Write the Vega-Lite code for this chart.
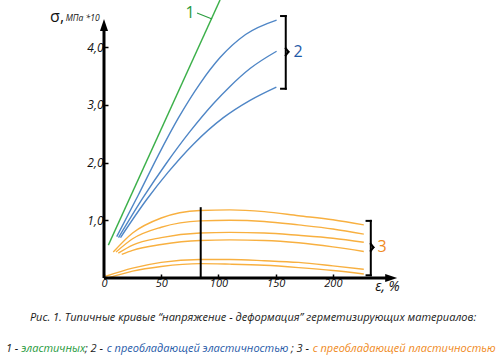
{
  "$schema": "https://vega.github.io/schema/vega-lite/v6.json",
  "width": 293,
  "height": 278,
  "autosize": "none",
  "padding": {"left": 104, "top": 0, "right": 103, "bottom": 81},
  "background": "white",
  "config": {"view": {"stroke": null}, "font": "Open Sans"},
  "resolve": {"scale": {"color": "independent", "shape": "independent"}},
  "datasets": {
    "curves": [
      {"id": "g", "t": "1", "x": 3.8, "y": 0.57},
      {"id": "g", "t": "1", "x": 101.4, "y": 4.82},
      {"id": "b1", "t": "2", "x": 11.1, "y": 0.716},
      {"id": "b1", "t": "2", "x": 30.0, "y": 1.438},
      {"id": "b1", "t": "2", "x": 47.5, "y": 2.13},
      {"id": "b1", "t": "2", "x": 64.9, "y": 2.77},
      {"id": "b1", "t": "2", "x": 83.9, "y": 3.37},
      {"id": "b1", "t": "2", "x": 101.4, "y": 3.82},
      {"id": "b1", "t": "2", "x": 123.7, "y": 4.22},
      {"id": "b1", "t": "2", "x": 150.8, "y": 4.47},
      {"id": "b2", "t": "2", "x": 12.7, "y": 0.7},
      {"id": "b2", "t": "2", "x": 34.4, "y": 1.4},
      {"id": "b2", "t": "2", "x": 54.2, "y": 1.98},
      {"id": "b2", "t": "2", "x": 75.2, "y": 2.54},
      {"id": "b2", "t": "2", "x": 95.5, "y": 3.02},
      {"id": "b2", "t": "2", "x": 110.1, "y": 3.32},
      {"id": "b2", "t": "2", "x": 127.6, "y": 3.63},
      {"id": "b2", "t": "2", "x": 150.8, "y": 3.93},
      {"id": "b3", "t": "2", "x": 14.4, "y": 0.7},
      {"id": "b3", "t": "2", "x": 37.3, "y": 1.36},
      {"id": "b3", "t": "2", "x": 55.9, "y": 1.83},
      {"id": "b3", "t": "2", "x": 78.1, "y": 2.32},
      {"id": "b3", "t": "2", "x": 104.3, "y": 2.78},
      {"id": "b3", "t": "2", "x": 127.6, "y": 3.08},
      {"id": "b3", "t": "2", "x": 150.6, "y": 3.31},
      {"id": "o1", "t": "3", "x": 8.1, "y": 0.45},
      {"id": "o1", "t": "3", "x": 25, "y": 0.78},
      {"id": "o1", "t": "3", "x": 50, "y": 1.04},
      {"id": "o1", "t": "3", "x": 84, "y": 1.17},
      {"id": "o1", "t": "3", "x": 110, "y": 1.18},
      {"id": "o1", "t": "3", "x": 140, "y": 1.15},
      {"id": "o1", "t": "3", "x": 170, "y": 1.08},
      {"id": "o1", "t": "3", "x": 200, "y": 1.01},
      {"id": "o1", "t": "3", "x": 227, "y": 0.92},
      {"id": "o2", "t": "3", "x": 10.5, "y": 0.45},
      {"id": "o2", "t": "3", "x": 25, "y": 0.68},
      {"id": "o2", "t": "3", "x": 50, "y": 0.88},
      {"id": "o2", "t": "3", "x": 84, "y": 0.99},
      {"id": "o2", "t": "3", "x": 110, "y": 1.0},
      {"id": "o2", "t": "3", "x": 140, "y": 0.98},
      {"id": "o2", "t": "3", "x": 170, "y": 0.92},
      {"id": "o2", "t": "3", "x": 200, "y": 0.85},
      {"id": "o2", "t": "3", "x": 227, "y": 0.76},
      {"id": "o3", "t": "3", "x": 12.5, "y": 0.43},
      {"id": "o3", "t": "3", "x": 25, "y": 0.57},
      {"id": "o3", "t": "3", "x": 50, "y": 0.7},
      {"id": "o3", "t": "3", "x": 84, "y": 0.78},
      {"id": "o3", "t": "3", "x": 110, "y": 0.79},
      {"id": "o3", "t": "3", "x": 140, "y": 0.78},
      {"id": "o3", "t": "3", "x": 170, "y": 0.74},
      {"id": "o3", "t": "3", "x": 200, "y": 0.69},
      {"id": "o3", "t": "3", "x": 227, "y": 0.62},
      {"id": "o4", "t": "3", "x": 15.5, "y": 0.41},
      {"id": "o4", "t": "3", "x": 25, "y": 0.48},
      {"id": "o4", "t": "3", "x": 50, "y": 0.58},
      {"id": "o4", "t": "3", "x": 84, "y": 0.65},
      {"id": "o4", "t": "3", "x": 110, "y": 0.66},
      {"id": "o4", "t": "3", "x": 140, "y": 0.65},
      {"id": "o4", "t": "3", "x": 170, "y": 0.61},
      {"id": "o4", "t": "3", "x": 200, "y": 0.54},
      {"id": "o4", "t": "3", "x": 227, "y": 0.46},
      {"id": "o5", "t": "3", "x": 1.5, "y": 0.03},
      {"id": "o5", "t": "3", "x": 25, "y": 0.17},
      {"id": "o5", "t": "3", "x": 50, "y": 0.27},
      {"id": "o5", "t": "3", "x": 84, "y": 0.32},
      {"id": "o5", "t": "3", "x": 110, "y": 0.32},
      {"id": "o5", "t": "3", "x": 140, "y": 0.3},
      {"id": "o5", "t": "3", "x": 170, "y": 0.27},
      {"id": "o5", "t": "3", "x": 200, "y": 0.21},
      {"id": "o5", "t": "3", "x": 227, "y": 0.15},
      {"id": "o6", "t": "3", "x": 3.5, "y": 0.0},
      {"id": "o6", "t": "3", "x": 25, "y": 0.12},
      {"id": "o6", "t": "3", "x": 50, "y": 0.2},
      {"id": "o6", "t": "3", "x": 84, "y": 0.25},
      {"id": "o6", "t": "3", "x": 110, "y": 0.24},
      {"id": "o6", "t": "3", "x": 140, "y": 0.22},
      {"id": "o6", "t": "3", "x": 170, "y": 0.18},
      {"id": "o6", "t": "3", "x": 200, "y": 0.13},
      {"id": "o6", "t": "3", "x": 227, "y": 0.07}
    ],
    "segs": [
      {"k": "axis", "x": 0, "y": 0, "x2": 250.9, "y2": 0},
      {"k": "axis", "x": 0, "y": 0, "x2": 0, "y2": 4.385},
      {"k": "vline", "x": 84.5, "y": 0, "x2": 84.5, "y2": 1.21},
      {"k": "br", "x": 158.8, "y": 3.28, "x2": 158.8, "y2": 4.54},
      {"k": "br", "x": 154.7, "y": 4.54, "x2": 158.8, "y2": 4.54},
      {"k": "br", "x": 154.7, "y": 3.28, "x2": 158.8, "y2": 3.28},
      {"k": "br", "x": 158.8, "y": 3.98, "x2": 161.1, "y2": 3.92},
      {"k": "br", "x": 161.1, "y": 3.92, "x2": 158.8, "y2": 3.86},
      {"k": "br", "x": 233.1, "y": 0.047, "x2": 233.1, "y2": 0.99},
      {"k": "br", "x": 229.4, "y": 0.99, "x2": 233.1, "y2": 0.99},
      {"k": "br", "x": 229.4, "y": 0.047, "x2": 233.1, "y2": 0.047},
      {"k": "br", "x": 233.1, "y": 0.59, "x2": 235.4, "y2": 0.53},
      {"k": "br", "x": 235.4, "y": 0.53, "x2": 233.1, "y2": 0.47},
      {"k": "lead", "x": 81.3, "y": 4.593, "x2": 94.4, "y2": 4.489}
    ],
    "arrows": [
      {"dir": "x", "x": 250.9, "y": 0},
      {"dir": "y", "x": 0, "y": 4.385}
    ],
    "nums": [
      {"text": "1", "c": "g", "x": 75.2, "y": 4.593},
      {"text": "2", "c": "b", "x": 169.6, "y": 3.92},
      {"text": "3", "c": "o", "x": 243, "y": 0.53}
    ],
    "titles": [
      {"text": "σ,", "k": "sig", "x": -41, "y": 4.52},
      {"text": "МПа *10", "k": "unit", "x": -33.5, "y": 4.506},
      {"text": "ε, %", "k": "eps", "x": 236.9, "y": -0.156}
    ],
    "cap1": [
      {"text": "Рис. 1.  Типичные кривые “напряжение - деформация” герметизирующих материалов:", "x": 130.2, "y": -0.7}
    ],
    "cap2": [
      {"text": "1 - ", "c": "k", "x": -85.7, "y": -1.23},
      {"text": "эластичных", "c": "g", "x": -72.3, "y": -1.23},
      {"text": "; 2 - ", "c": "k", "x": -16.6, "y": -1.23},
      {"text": "с преобладающей эластичностью", "c": "b", "x": 2.4, "y": -1.23},
      {"text": "; 3 - ", "c": "k", "x": 163.3, "y": -1.23},
      {"text": "с преобладающей пластичностью", "c": "o", "x": 182.3, "y": -1.23}
    ]
  },
  "encoding": {
    "x": {
      "field": "x", "type": "quantitative",
      "scale": {"domain": [0, 256], "nice": false, "zero": false},
      "axis": {"values": [0, 50, 100, 150, 200], "title": null, "domain": false, "grid": false,
        "tickSize": -4, "tickWidth": 1.5, "tickColor": "black",
        "labelFont": "Open Sans", "labelFontStyle": "italic", "labelFontSize": 11, "labelColor": "#111",
        "labelPadding": 3, "labelFlush": false}
    },
    "y": {
      "field": "y", "type": "quantitative",
      "scale": {"domain": [0, 4.818], "nice": false, "zero": false},
      "axis": {"values": [1, 2, 3, 4], "labelExpr": "replace(format(datum.value, '.1f'), '.', ',')",
        "title": null, "domain": false, "grid": false,
        "tickSize": -4, "tickWidth": 1.5, "tickColor": "black",
        "labelFont": "Open Sans", "labelFontStyle": "italic", "labelFontSize": 12, "labelColor": "#111",
        "labelPadding": 5}
    }
  },
  "layer": [
    {
      "data": {"name": "curves"},
      "mark": {"type": "line", "interpolate": "monotone", "strokeWidth": 1.4},
      "encoding": {
        "detail": {"field": "id"},
        "color": {"field": "t", "type": "nominal",
          "scale": {"domain": ["1", "2", "3"], "range": ["#3cb04a", "#4f86c6", "#f8b040"]},
          "legend": null}
      }
    },
    {
      "data": {"name": "segs"},
      "transform": [{"filter": "datum.k == 'axis'"}],
      "mark": {"type": "rule", "strokeWidth": 3, "color": "black"},
      "encoding": {"x2": {"field": "x2"}, "y2": {"field": "y2"}}
    },
    {
      "data": {"name": "segs"},
      "transform": [{"filter": "datum.k == 'vline' || datum.k == 'br'"}],
      "mark": {"type": "rule", "strokeWidth": 2, "color": "black", "strokeCap": "square"},
      "encoding": {"x2": {"field": "x2"}, "y2": {"field": "y2"}}
    },
    {
      "data": {"name": "segs"},
      "transform": [{"filter": "datum.k == 'lead'"}],
      "mark": {"type": "rule", "strokeWidth": 1.2, "color": "#2a9d3e"},
      "encoding": {"x2": {"field": "x2"}, "y2": {"field": "y2"}}
    },
    {
      "data": {"name": "arrows"},
      "mark": {"type": "point", "filled": true, "opacity": 1, "color": "black", "size": 144},
      "encoding": {
        "shape": {"field": "dir", "type": "nominal",
          "scale": {"domain": ["x", "y"], "range": ["M-1,-0.67L1,0L-1,0.67Z", "M-0.67,1L0,-1L0.67,1Z"]},
          "legend": null}
      }
    },
    {
      "data": {"name": "nums"},
      "mark": {"type": "text", "fontSize": 16, "font": "Open Sans", "align": "center", "baseline": "middle"},
      "encoding": {
        "text": {"field": "text"},
        "color": {"field": "c", "type": "nominal",
          "scale": {"domain": ["k", "g", "b", "o"], "range": ["#1a1a1a", "#1f9a3c", "#1f5aa8", "#f08a1c"]},
          "legend": null}
      }
    },
    {
      "data": {"name": "titles"},
      "transform": [{"filter": "datum.k == 'sig'"}],
      "mark": {"type": "text", "fontSize": 16, "font": "Open Sans", "align": "center", "baseline": "middle", "color": "#111"},
      "encoding": {"text": {"field": "text"}}
    },
    {
      "data": {"name": "titles"},
      "transform": [{"filter": "datum.k == 'unit'"}],
      "mark": {"type": "text", "fontSize": 8.5, "font": "Open Sans", "fontStyle": "italic", "align": "left", "baseline": "middle", "color": "#111"},
      "encoding": {"text": {"field": "text"}}
    },
    {
      "data": {"name": "titles"},
      "transform": [{"filter": "datum.k == 'eps'"}],
      "mark": {"type": "text", "fontSize": 14, "font": "Open Sans", "fontStyle": "italic", "align": "left", "baseline": "middle", "color": "#111"},
      "encoding": {"text": {"field": "text"}}
    },
    {
      "data": {"name": "cap1"},
      "mark": {"type": "text", "fontSize": 11, "font": "Open Sans", "fontStyle": "italic", "align": "center", "baseline": "middle", "color": "#1a1a1a"},
      "encoding": {"text": {"field": "text"}}
    },
    {
      "data": {"name": "cap2"},
      "mark": {"type": "text", "fontSize": 11, "font": "Open Sans", "fontStyle": "italic", "align": "left", "baseline": "middle"},
      "encoding": {
        "text": {"field": "text"},
        "color": {"field": "c", "type": "nominal",
          "scale": {"domain": ["k", "g", "b", "o"], "range": ["#1a1a1a", "#1f9a3c", "#1f5aa8", "#f08a1c"]},
          "legend": null}
      }
    }
  ]
}
